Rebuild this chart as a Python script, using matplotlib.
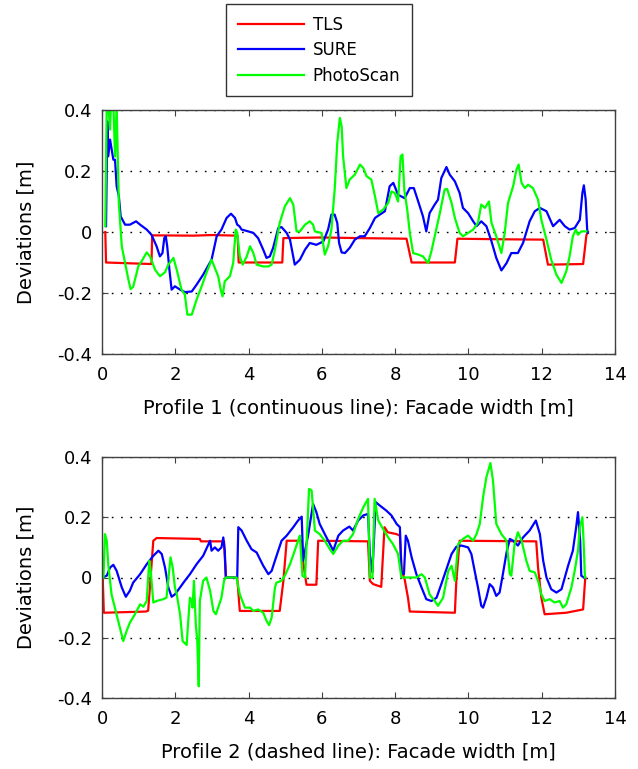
import numpy as np
import matplotlib
matplotlib.use("Agg")
import matplotlib.pyplot as plt

# ------------------------
# Data (x = facade width [m], y = deviation [m])
# ------------------------

# Profile 1 (continuous line)
tls1_x = [0.09, 0.11, 1.35, 1.37, 2.5, 3.0, 3.70, 3.73, 4.92, 4.95, 6.0, 7.0, 8.31,
          8.45, 9.63, 9.70, 11.0, 12.04, 12.17, 13.13, 13.22, 13.26]
tls1_y = [0.0, -0.10, -0.105, -0.011, -0.012, -0.010, -0.012, -0.10, -0.10, -0.02,
          -0.018, -0.02, -0.022, -0.10, -0.10, -0.022, -0.024, -0.025, -0.107, -0.105,
          -0.01, 0.0]

sure1_x = [0.11, 0.145, 0.17, 0.22, 0.31, 0.355, 0.40, 0.46, 0.51, 0.63, 0.76, 0.93,
           1.04, 1.22, 1.35, 1.49, 1.58, 1.65, 1.70, 1.74, 1.78, 1.84, 1.90, 1.99,
           2.13, 2.26, 2.45, 2.58, 2.76, 2.99, 3.13, 3.26, 3.40, 3.52, 3.63, 3.69,
           3.75, 3.81, 3.99, 4.13, 4.26, 4.40, 4.49, 4.58, 4.67, 4.81, 4.90, 5.04,
           5.13, 5.20, 5.26, 5.40, 5.54, 5.67, 5.85, 6.04, 6.17, 6.26, 6.35, 6.42,
           6.47, 6.54, 6.63, 6.76, 6.90, 7.04, 7.17, 7.31, 7.45, 7.58, 7.72, 7.85,
           7.95, 8.08, 8.26, 8.40, 8.51, 8.63, 8.76, 8.85, 8.94, 9.08, 9.17, 9.26,
           9.40, 9.49, 9.63, 9.76, 9.85, 9.99, 10.13, 10.22, 10.35, 10.49, 10.63,
           10.76, 10.90, 11.04, 11.17, 11.35, 11.49, 11.67, 11.81, 11.95, 12.13,
           12.31, 12.49, 12.63, 12.76, 12.90, 13.04, 13.11, 13.15, 13.20, 13.24, 13.26]
sure1_y = [0.019, 0.363, 0.248, 0.303, 0.237, 0.237, 0.15, 0.117, 0.051, 0.024, 0.024,
           0.035, 0.024, 0.008, -0.009, -0.047, -0.08, -0.069, -0.02, -0.014, -0.047,
           -0.124, -0.189, -0.178, -0.189, -0.197, -0.195, -0.173, -0.14, -0.091,
           -0.014, 0.008, 0.046, 0.06, 0.046, 0.024, 0.019, 0.008, 0.002, -0.003,
           -0.02, -0.058, -0.085, -0.08, -0.052, 0.013, 0.016, -0.003, -0.025, -0.069,
           -0.107, -0.091, -0.058, -0.036, -0.042, -0.031, 0.008, 0.057, 0.057, 0.03,
           -0.036, -0.067, -0.069, -0.052, -0.025, -0.014, -0.014, 0.013, 0.046, 0.057,
           0.068, 0.15, 0.161, 0.122, 0.111, 0.144, 0.144, 0.10, 0.051, 0.002, 0.062,
           0.09, 0.106, 0.177, 0.213, 0.188, 0.166, 0.128, 0.079, 0.062, 0.035, 0.019,
           0.035, 0.019, -0.031, -0.085, -0.126, -0.102, -0.069, -0.069, -0.036, 0.035,
           0.068, 0.079, 0.068, 0.019, 0.04, 0.019, 0.008, 0.013, 0.04, 0.128, 0.153,
           0.106, 0.008, -0.003]

photo1_x = [0.09, 0.13, 0.17, 0.22, 0.245, 0.31, 0.355, 0.40, 0.43, 0.46, 0.54, 0.63,
            0.72, 0.78, 0.85, 0.90, 0.99, 1.08, 1.22, 1.31, 1.45, 1.58, 1.72, 1.81,
            1.95, 2.04, 2.17, 2.26, 2.33, 2.45, 2.58, 2.72, 2.85, 2.99, 3.08, 3.17,
            3.24, 3.29, 3.35, 3.49, 3.58, 3.65, 3.69, 3.76, 3.84, 3.95, 4.04, 4.13,
            4.22, 4.40, 4.54, 4.63, 4.72, 4.85, 4.99, 5.13, 5.22, 5.31, 5.40, 5.54,
            5.67, 5.76, 5.81, 5.99, 6.08, 6.17, 6.26, 6.35, 6.42, 6.49, 6.54, 6.58,
            6.67, 6.76, 6.90, 7.04, 7.13, 7.22, 7.35, 7.45, 7.54, 7.67, 7.81, 7.90,
            7.99, 8.08, 8.15, 8.20, 8.25, 8.33, 8.40, 8.49, 8.63, 8.76, 8.90, 8.99,
            9.08, 9.22, 9.35, 9.42, 9.54, 9.63, 9.76, 9.85, 9.99, 10.13, 10.26, 10.35,
            10.45, 10.56, 10.63, 10.76, 10.90, 10.99, 11.08, 11.22, 11.31, 11.37,
            11.45, 11.54, 11.63, 11.76, 11.90, 11.99, 12.13, 12.26, 12.40, 12.54,
            12.67, 12.76, 12.85, 12.93, 12.99, 13.08, 13.22]
photo1_y = [0.019, 0.42, 0.42, 0.336, 0.42, 0.42, 0.248, 0.42, 0.248, 0.095, -0.047,
            -0.102, -0.156, -0.187, -0.18, -0.156, -0.113, -0.096, -0.067, -0.08,
            -0.124, -0.145, -0.132, -0.107, -0.085, -0.124, -0.189, -0.205, -0.271,
            -0.271, -0.222, -0.178, -0.134, -0.091, -0.118, -0.145, -0.189, -0.211,
            -0.162, -0.145, -0.102, 0.008, -0.003, -0.08, -0.107, -0.08, -0.047,
            -0.069, -0.107, -0.113, -0.113, -0.107, -0.058, 0.03, 0.084, 0.111, 0.09,
            0.002, 0.002, 0.024, 0.035, 0.024, 0.002, -0.003, -0.074, -0.047, 0.008,
            0.139, 0.292, 0.374, 0.346, 0.248, 0.144, 0.172, 0.188, 0.221, 0.21, 0.183,
            0.172, 0.117, 0.062, 0.073, 0.095, 0.133, 0.128, 0.10, 0.248, 0.254, 0.139,
            0.073, -0.003, -0.069, -0.074, -0.08, -0.102, -0.063, -0.014, 0.062, 0.139,
            0.141, 0.095, 0.046, -0.003, -0.014, -0.003, 0.008, 0.03, 0.09, 0.079, 0.10,
            0.03, -0.014, -0.069, -0.003, 0.095, 0.15, 0.204, 0.221, 0.161, 0.144,
            0.155, 0.144, 0.106, 0.04, -0.025, -0.091, -0.14, -0.167, -0.129, -0.08,
            -0.014, 0.008, -0.009, 0.002, 0.002]

# Profile 2 (dashed line)
tls2_x = [0.02, 0.05, 1.20, 1.26, 1.40, 1.49, 2.67, 2.70, 3.33, 3.38, 3.69, 3.76,
          4.85, 4.95, 5.04, 5.45, 5.49, 5.58, 5.85, 5.90, 7.26, 7.31, 7.40, 7.62,
          7.71, 7.80, 8.04, 8.13, 8.18, 8.26, 8.35, 8.40, 9.63, 9.67, 9.76, 11.85,
          11.90, 11.99, 12.08, 12.67, 13.13, 13.17, 13.19]
tls2_y = [0.0, -0.117, -0.113, -0.11, 0.122, 0.131, 0.128, 0.12, 0.12, 0.0, 0.0,
          -0.111, -0.111, -0.011, 0.122, 0.122, 0.05, -0.024, -0.024, 0.122, 0.12,
          -0.011, -0.022, -0.031, 0.167, 0.15, 0.144, 0.139, 0.022, -0.006, -0.067,
          -0.113, -0.117, -0.011, 0.122, 0.12, 0.033, -0.067, -0.122, -0.117, -0.106,
          -0.033, 0.0]

sure2_x = [0.02, 0.13, 0.22, 0.31, 0.40, 0.54, 0.65, 0.76, 0.85, 1.04, 1.22, 1.40,
           1.54, 1.63, 1.72, 1.81, 1.90, 1.99, 2.13, 2.26, 2.40, 2.58, 2.76, 2.95,
           2.99, 3.08, 3.17, 3.26, 3.31, 3.35, 3.38, 3.69, 3.72, 3.81, 3.95, 4.08,
           4.22, 4.40, 4.54, 4.63, 4.72, 4.90, 5.04, 5.22, 5.35, 5.45, 5.49, 5.63,
           5.76, 5.85, 5.94, 6.08, 6.22, 6.31, 6.45, 6.58, 6.75, 6.85, 6.99, 7.13,
           7.26, 7.31, 7.38, 7.47, 7.58, 7.76, 7.90, 8.04, 8.13, 8.17, 8.24, 8.29,
           8.35, 8.45, 8.58, 8.72, 8.85, 8.99, 9.13, 9.26, 9.40, 9.54, 9.67, 9.81,
           9.99, 10.08, 10.17, 10.26, 10.35, 10.40, 10.49, 10.58, 10.67, 10.76, 10.85,
           10.94, 11.04, 11.13, 11.22, 11.35, 11.49, 11.67, 11.84, 11.95, 12.04, 12.13,
           12.26, 12.40, 12.54, 12.63, 12.72, 12.85, 12.94, 12.99, 13.05, 13.08, 13.17]
sure2_y = [0.0, 0.006, 0.033, 0.042, 0.022, -0.033, -0.064, -0.044, -0.017, 0.011,
           0.044, 0.072, 0.089, 0.078, 0.033, -0.033, -0.064, -0.056, -0.033, -0.011,
           0.011, 0.044, 0.072, 0.122, 0.089, 0.10, 0.089, 0.10, 0.133, 0.089, 0.0, 0.0,
           0.167, 0.156, 0.122, 0.094, 0.083, 0.039, 0.011, 0.022, 0.056, 0.122, 0.139,
           0.167, 0.189, 0.202, 0.056, 0.144, 0.244, 0.217, 0.178, 0.144, 0.111, 0.089,
           0.139, 0.156, 0.169, 0.156, 0.189, 0.206, 0.211, 0.078, 0.017, 0.25, 0.239,
           0.222, 0.206, 0.178, 0.167, 0.017, 0.011, 0.139, 0.122, 0.067, 0.011, -0.033,
           -0.072, -0.078, -0.067, -0.022, 0.028, 0.078, 0.102, 0.106, 0.10, 0.078,
           0.022, -0.033, -0.094, -0.10, -0.067, -0.022, -0.033, -0.061, -0.05, 0.011,
           0.083, 0.128, 0.122, 0.106, 0.133, 0.156, 0.189, 0.144, 0.056, 0.0, -0.039,
           -0.05, -0.039, 0.0, 0.039, 0.089, 0.167, 0.217, 0.122, 0.006, -0.002]

photo2_x = [0.04, 0.08, 0.13, 0.17, 0.26, 0.35, 0.49, 0.58, 0.67, 0.76, 0.90, 1.04,
            1.13, 1.22, 1.29, 1.33, 1.40, 1.49, 1.67, 1.76, 1.84, 1.87, 1.93, 1.99,
            2.04, 2.13, 2.20, 2.31, 2.35, 2.40, 2.45, 2.47, 2.51, 2.56, 2.60, 2.64,
            2.67, 2.76, 2.85, 2.95, 3.04, 3.11, 3.17, 3.26, 3.33, 3.38, 3.67, 3.76,
            3.90, 4.04, 4.13, 4.26, 4.40, 4.49, 4.56, 4.63, 4.72, 4.76, 4.90, 4.99,
            5.13, 5.26, 5.35, 5.40, 5.47, 5.54, 5.60, 5.65, 5.72, 5.81, 5.94, 6.08,
            6.22, 6.31, 6.45, 6.58, 6.72, 6.85, 6.99, 7.13, 7.26, 7.31, 7.38, 7.44,
            7.54, 7.67, 7.81, 7.94, 8.08, 8.17, 8.45, 8.58, 8.72, 8.81, 8.94, 9.08,
            9.17, 9.31, 9.45, 9.54, 9.63, 9.72, 9.85, 9.99, 10.13, 10.22, 10.31,
            10.40, 10.49, 10.60, 10.67, 10.76, 10.90, 11.04, 11.13, 11.17, 11.26,
            11.35, 11.45, 11.58, 11.67, 11.81, 11.90, 11.99, 12.08, 12.22, 12.35,
            12.49, 12.58, 12.67, 12.81, 12.90, 12.99, 13.04, 13.11, 13.15, 13.18]
photo2_y = [0.0, 0.144, 0.122, 0.044, -0.056, -0.10, -0.167, -0.211, -0.178, -0.15,
            -0.122, -0.089, -0.097, -0.078, 0.056, 0.022, -0.083, -0.078, -0.072,
            -0.067, 0.033, 0.067, 0.033, -0.033, -0.056, -0.122, -0.211, -0.224, -0.15,
            -0.067, -0.078, -0.10, -0.011, -0.156, -0.211, -0.361, -0.078, -0.011, 0.0,
            -0.044, -0.111, -0.122, -0.10, -0.067, -0.011, 0.0, 0.0, -0.056, -0.10,
            -0.10, -0.111, -0.106, -0.117, -0.144, -0.158, -0.133, -0.033, -0.017,
            -0.011, 0.006, 0.044, 0.089, 0.122, 0.139, 0.006, 0.0, 0.156, 0.294, 0.289,
            0.156, 0.144, 0.122, 0.094, 0.078, 0.106, 0.122, 0.122, 0.144, 0.194, 0.233,
            0.261, 0.0, 0.0, 0.261, 0.189, 0.161, 0.133, 0.111, 0.078, 0.0, 0.0, 0.0,
            0.011, 0.0, -0.056, -0.078, -0.094, -0.067, 0.022, 0.039, -0.011, 0.111,
            0.128, 0.139, 0.122, 0.144, 0.178, 0.267, 0.333, 0.38, 0.322, 0.178, 0.144,
            0.122, 0.011, 0.006, 0.111, 0.15, 0.122, 0.056, 0.022, 0.017, -0.011,
            -0.056, -0.078, -0.072, -0.083, -0.078, -0.10, -0.089, -0.033, 0.022, 0.089,
            0.167, 0.20, 0.10, 0.0]

series_names = ["TLS", "SURE", "PhotoScan"]
series_colors = ["#ff0000", "#0000ff", "#00ff00"]
xlabels = ["Profile 1 (continuous line): Facade width [m]",
           "Profile 2 (dashed line): Facade width [m]"]
xticks = [0, 2, 4, 6, 8, 10, 12, 14]
yticks = [-0.4, -0.2, 0, 0.2, 0.4]
ytick_labels = ["-0.4", "-0.2", "0", "0.2", "0.4"]

profiles = [
    [(tls1_x, tls1_y), (sure1_x, sure1_y), (photo1_x, photo1_y)],
    [(tls2_x, tls2_y), (sure2_x, sure2_y), (photo2_x, photo2_y)],
]

# ------------------------
# Figure
# ------------------------

W, H = 638, 769
fig = plt.figure(figsize=(W / 100, H / 100), dpi=100)

# axes boxes in pixels: left, top, right, bottom
boxes = [(102, 110, 615, 354), (102, 457, 615, 698)]

handles = []
for k, (l, t, r, b) in enumerate(boxes):
    ax = fig.add_axes([l / W, 1 - b / H, (r - l) / W, (b - t) / H])
    for (xs, ys), name, col in zip(profiles[k], series_names, series_colors):
        h, = ax.plot(xs, ys, color=col, linewidth=1.6, label=name)
        if k == 0:
            handles.append(h)
    ax.set_xlim(0, 14)
    ax.set_ylim(-0.4, 0.4)
    ax.set_xticks(xticks)
    ax.set_xticklabels([str(v) for v in xticks])
    ax.set_yticks(yticks)
    ax.set_yticklabels(ytick_labels)
    ax.yaxis.grid(True, color="k", linestyle=(0, (1.2, 5.5)), linewidth=1.0)
    ax.tick_params(direction="in", top=True, right=True, length=4, width=0.8,
                   labelsize=13, color="0.25")
    ax.tick_params(axis="x", pad=9)
    ax.tick_params(axis="y", pad=7)
    for sp in ax.spines.values():
        sp.set_color("0.25")
        sp.set_linewidth(1.0)
    ax.set_xlabel(xlabels[k], fontsize=14, labelpad=10)
    ax.set_ylabel("Deviations [m]", fontsize=14, labelpad=16)

leg = fig.legend(handles, series_names, loc="upper left",
                 bbox_to_anchor=(226 / W, 1 - 4 / H), borderaxespad=0,
                 fontsize=12, frameon=True, fancybox=False, edgecolor="k",
                 handlelength=4.0, handletextpad=0.5, borderpad=0.7,
                 labelspacing=0.45)
leg.get_frame().set_linewidth(1.0)

fig.savefig("out.png", dpi=100)
